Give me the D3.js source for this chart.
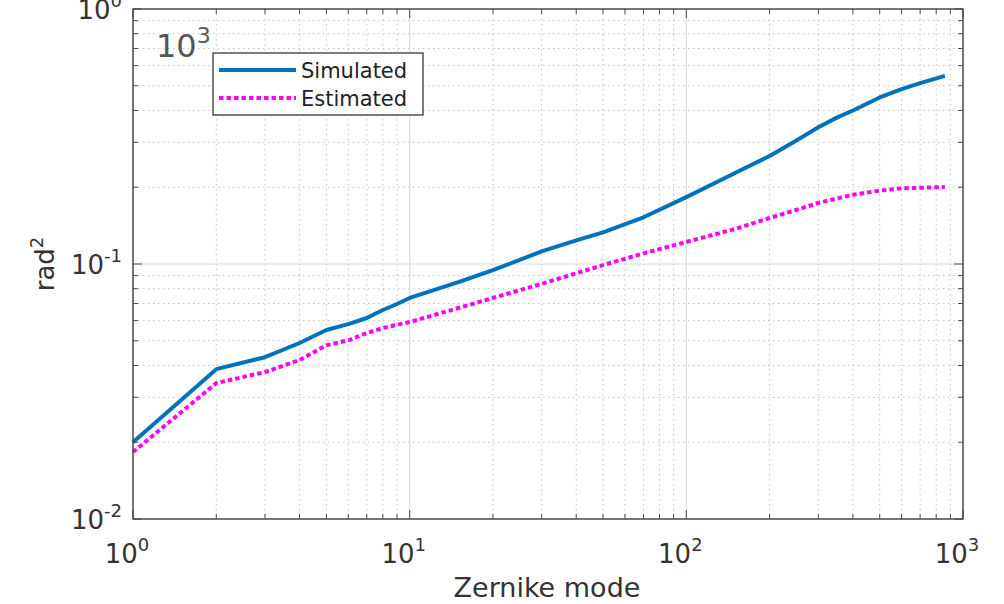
<!DOCTYPE html>
<html>
<head>
<meta charset="utf-8">
<script src="https://cdn.jsdelivr.net/npm/d3@7"></script>
<style>
  body { margin: 0; background: #fff; }
  text { font-family: "DejaVu Sans", sans-serif; }
</style>
</head>
<body>
<svg id="chart" width="1004" height="604"></svg>
<script>
// data
const modes = [1, 2, 3, 4, 5, 6, 7, 8, 9, 10, 15, 20, 30, 40, 50, 70, 100, 150, 200, 250, 300, 350, 400, 500, 600, 700, 860];
const simulated = [0.0200, 0.0387, 0.0431, 0.0490, 0.0551, 0.0581, 0.0614, 0.066, 0.0697, 0.0736, 0.0849, 0.0947, 0.112, 0.1237, 0.133, 0.1525, 0.183, 0.2275, 0.265, 0.305, 0.344, 0.375, 0.40, 0.45, 0.485, 0.512, 0.547];
const estModes = [1, 2, 3, 4, 5, 6, 7, 8, 10, 15, 20, 30, 50, 70, 100, 150, 200, 250, 300, 400, 500, 600, 860];
const estimated = [0.0183, 0.0341, 0.0377, 0.042, 0.0480, 0.0502, 0.0536, 0.0561, 0.0592, 0.0672, 0.0736, 0.0836, 0.099, 0.110, 0.122, 0.1372, 0.1515, 0.163, 0.1735, 0.187, 0.194, 0.198, 0.2005];
const xMajors = [1, 10, 100, 1000];
const yMajors = [0.01, 0.1, 1];
const seriesNames = ["Simulated", "Estimated"];

const svg = d3.select("#chart");
const plotL = 133, plotR = 963, plotT = 9, plotB = 519;

const x = d3.scaleLog().domain([1, 1000]).range([plotL, plotR]);
const y = d3.scaleLog().domain([0.01, 1]).range([plotB, plotT]);

const isMajor = (list, v) => list.some(m => Math.abs(m - v) / m < 1e-9);
const minorX = x.ticks().filter(v => !isMajor(xMajors, v));
const minorY = y.ticks().filter(v => !isMajor(yMajors, v));

const grid = svg.append("g");
// minor grid, dotted
grid.selectAll(".mx").data(minorX).join("line")
  .attr("x1", d => x(d)).attr("x2", d => x(d)).attr("y1", plotT).attr("y2", plotB)
  .attr("stroke", "#c4c4c4").attr("stroke-dasharray", "1.5,3.5");
grid.selectAll(".my").data(minorY).join("line")
  .attr("y1", d => y(d)).attr("y2", d => y(d)).attr("x1", plotL).attr("x2", plotR)
  .attr("stroke", "#c4c4c4").attr("stroke-dasharray", "1.5,3.5");
// major grid, solid
grid.selectAll(".Mx").data(xMajors.slice(1, -1)).join("line")
  .attr("x1", d => x(d)).attr("x2", d => x(d)).attr("y1", plotT).attr("y2", plotB)
  .attr("stroke", "#dcdcdc").attr("stroke-width", 1.2);
grid.selectAll(".My").data(yMajors.slice(1, -1)).join("line")
  .attr("y1", d => y(d)).attr("y2", d => y(d)).attr("x1", plotL).attr("x2", plotR)
  .attr("stroke", "#dcdcdc").attr("stroke-width", 1.2);

// big exponent label inside plot
svg.append("text").attr("x", 156).attr("y", 57)
  .attr("font-size", 32).attr("fill", "#555")
  .text("10").append("tspan").attr("dy", -14).attr("font-size", 22).text("3");

// series
const line = d3.line().x(d => x(d[0])).y(d => y(d[1]));
svg.append("path").datum(modes.map((m, i) => [m, simulated[i]]))
  .attr("d", line).attr("fill", "none").attr("stroke", "#0072BD").attr("stroke-width", 4)
  .attr("stroke-linejoin", "round");
svg.append("path").datum(estModes.map((m, i) => [m, estimated[i]]))
  .attr("d", line).attr("fill", "none").attr("stroke", "#FF00FF").attr("stroke-width", 4)
  .attr("stroke-dasharray", "4.5,3");

// axes box and ticks
const axisColor = "#4a4a4a";
svg.append("rect").attr("x", plotL).attr("y", plotT).attr("width", plotR - plotL).attr("height", plotB - plotT)
  .attr("fill", "none").attr("stroke", axisColor).attr("stroke-width", 1.5);
const tk = svg.append("g").attr("stroke", axisColor);
const xt = x.ticks().map(v => ({ v, len: isMajor(xMajors, v) ? 9 : 5 }));
const yt = y.ticks().map(v => ({ v, len: isMajor(yMajors, v) ? 9 : 5 }));
tk.selectAll(".xb").data(xt).join("line")
  .attr("x1", d => x(d.v)).attr("x2", d => x(d.v)).attr("y1", plotB).attr("y2", d => plotB - d.len);
tk.selectAll(".xt").data(xt).join("line")
  .attr("x1", d => x(d.v)).attr("x2", d => x(d.v)).attr("y1", plotT).attr("y2", d => plotT + d.len);
tk.selectAll(".yl").data(yt).join("line")
  .attr("y1", d => y(d.v)).attr("y2", d => y(d.v)).attr("x1", plotL).attr("x2", d => plotL + d.len);
tk.selectAll(".yr").data(yt).join("line")
  .attr("y1", d => y(d.v)).attr("y2", d => y(d.v)).attr("x1", plotR).attr("x2", d => plotR - d.len);

// tick labels
const labelColor = "#333";
svg.selectAll(".xl").data(xMajors).join("text")
  .attr("x", d => x(d) - 6).attr("y", 563).attr("text-anchor", "middle")
  .attr("font-size", 26).attr("fill", labelColor)
  .each(function (d) {
    const t = d3.select(this);
    t.append("tspan").text("10");
    t.append("tspan").attr("dy", -12).attr("font-size", 18).text(Math.round(Math.log10(d)));
  });
svg.selectAll(".ylab").data(yMajors).join("text")
  .attr("x", 122).attr("y", d => y(d) + 10).attr("text-anchor", "end")
  .attr("font-size", 26).attr("fill", labelColor)
  .each(function (d) {
    const t = d3.select(this);
    t.append("tspan").text("10");
    t.append("tspan").attr("dy", -12).attr("font-size", 18).text(Math.round(Math.log10(d)));
  });

// axis titles
svg.append("text").attr("x", 547).attr("y", 597).attr("text-anchor", "middle")
  .attr("font-size", 27).attr("fill", labelColor).text("Zernike mode");
svg.append("text").attr("transform", "translate(54," + ((plotT + plotB) / 2) + ") rotate(-90)")
  .attr("text-anchor", "middle").attr("font-size", 26).attr("fill", labelColor)
  .text("rad").append("tspan").attr("dy", -11).attr("font-size", 18).text("2");

// legend
const lg = svg.append("g");
lg.append("rect").attr("x", 213).attr("y", 53).attr("width", 210).attr("height", 62)
  .attr("fill", "#fff").attr("stroke", "#262626").attr("stroke-width", 1.2);
const legendStyles = [
  { color: "#0072BD", dash: null },
  { color: "#FF00FF", dash: "4.5,3" }
];
seriesNames.forEach((name, i) => {
  const cy = 70 + i * 28;
  lg.append("line").attr("x1", 219).attr("x2", 296).attr("y1", cy).attr("y2", cy)
    .attr("stroke", legendStyles[i].color).attr("stroke-width", 4)
    .attr("stroke-dasharray", legendStyles[i].dash);
  lg.append("text").attr("x", 301).attr("y", cy + 8).attr("font-size", 21).attr("fill", "#222").text(name);
});
</script>
</body>
</html>
